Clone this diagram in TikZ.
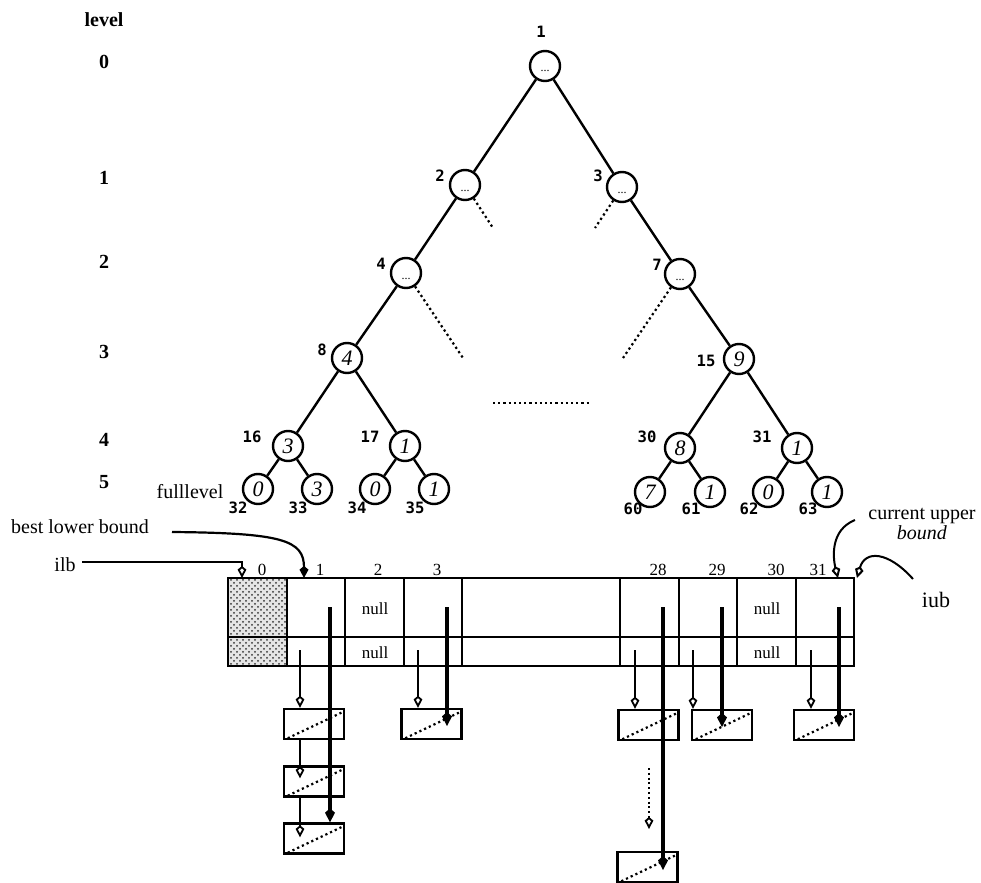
\documentclass[tikz,border=0pt]{standalone}
\usepackage{fontspec}
\setmainfont{Liberation Serif}
\newfontfamily\idfont{DejaVu Sans Mono}
\usetikzlibrary{arrows.meta,patterns,calc}
\newcommand\dotsin{\smash{\raisebox{-3pt}{...}}}
\begin{document}
\begin{tikzpicture}[x=0.5pt,y=-0.5pt,
  tn/.style={circle,draw,line width=1.2pt,minimum size=15pt,inner sep=0pt,font=\fontsize{11}{11}\selectfont\itshape},
  en/.style={circle,draw,line width=1.2pt,minimum size=15pt,inner sep=0pt,font=\fontsize{6}{6}\selectfont},
  idl/.style={inner sep=0pt,font=\fontsize{7.8}{7.8}\selectfont\idfont\bfseries},
  lvl/.style={inner sep=0pt,font=\fontsize{10}{10}\selectfont\bfseries},
  txt/.style={inner sep=0pt,font=\fontsize{10}{12}\selectfont},
  idx/.style={inner sep=0pt,anchor=base,font=\fontsize{8.5}{8.5}\selectfont},
  nul/.style={inner sep=0pt,font=\fontsize{8.5}{8.5}\selectfont},
  edg/.style={line width=1.2pt},
  dotl/.style={line width=1.1pt,dash pattern=on 1.1pt off 1.5pt},
  lbox/.style={draw,line width=1.2pt,minimum width=30pt,minimum height=15pt,inner sep=0pt},
  openhead/.style={-{Kite[open,length=6pt,width=4.4pt,inset=1.8pt]}},
  thinarr/.style={line width=0.9pt,openhead},
  thickarr/.style={line width=2.1pt,-{Kite[length=7pt,width=5pt,inset=2.2pt]}},
  ptr/.style={line width=1.1pt,-{Kite[length=6pt,width=4.5pt,inset=1.8pt]}},
]
\useasboundingbox (0,0) rectangle (981,883);

% level labels
\node[lvl] (lv) at (104,20) {level};
\node[lvl] (l0) at (104,62) {0};
\node[lvl] (l1) at (104,178) {1};
\node[lvl] (l2) at (104,262) {2};
\node[lvl] (l3) at (104,352) {3};
\node[lvl] (l4) at (104,440) {4};
\node[lvl] (l5) at (104,482) {5};
\node[txt] (fl) at (190,492) {fulllevel};

% tree nodes
\node[en] (n1) at (545,66) {\dotsin};
\node[en] (n2) at (465,185) {\dotsin};
\node[en] (n3) at (622,187) {\dotsin};
\node[en] (n4) at (406,273) {\dotsin};
\node[en] (n7) at (680,274) {\dotsin};
\node[tn] (n8) at (347,358) {4};
\node[tn] (n15) at (739,359) {9};
\node[tn] (n16) at (288,446) {3};
\node[tn] (n17) at (405,446) {1};
\node[tn] (n30) at (680,448) {8};
\node[tn] (n31) at (797,448) {1};
\node[tn] (n32) at (258,489) {0};
\node[tn] (n33) at (317,489) {3};
\node[tn] (n34) at (375,489) {0};
\node[tn] (n35) at (434,489) {1};
\node[tn] (n60) at (650,492) {7};
\node[tn] (n61) at (710,492) {1};
\node[tn] (n62) at (768,492) {0};
\node[tn] (n63) at (827,492) {1};

% node ids
\node[idl] (id1) at (541,32) {1};
\node[idl] (id2) at (440,176) {2};
\node[idl] (id3) at (598,176) {3};
\node[idl] (id4) at (381,264) {4};
\node[idl] (id7) at (657,265) {7};
\node[idl] (id8) at (322,350) {8};
\node[idl] (id15) at (706,361) {15};
\node[idl] (id16) at (252,437) {16};
\node[idl] (id17) at (370,437) {17};
\node[idl] (id30) at (647,437) {30};
\node[idl] (id31) at (762,437) {31};
\node[idl] (id32) at (238,508) {32};
\node[idl] (id33) at (298,508) {33};
\node[idl] (id34) at (357,508) {34};
\node[idl] (id35) at (415,508) {35};
\node[idl] (id60) at (633,509) {60};
\node[idl] (id61) at (691,509) {61};
\node[idl] (id62) at (749,509) {62};
\node[idl] (id63) at (808,509) {63};

% tree edges
\foreach \a/\b in {n1/n2,n1/n3,n2/n4,n3/n7,n4/n8,n7/n15,n8/n16,n8/n17,n15/n30,n15/n31,
  n16/n32,n16/n33,n17/n34,n17/n35,n30/n60,n30/n61,n31/n62,n31/n63}
  \draw[edg] (\a) -- (\b);

% dotted partial edges
\coordinate (d2) at (493,228);
\coordinate (d3) at (595,228);
\coordinate (d4) at (463,358);
\coordinate (d7) at (623,358);
\coordinate (h1) at (493,403);
\coordinate (h2) at (589,403);
\draw[dotl] (n2.-57) -- (d2);
\draw[dotl] (n3.-123) -- (d3);
\draw[dotl] (n4.-56) -- (d4);
\draw[dotl] (n7.-124) -- (d7);
\draw[dotl] (h1) -- (h2);

% array
\fill[gray!20] (228,578) rectangle (287,666);
\fill[pattern=crosshatch dots,pattern color=black!80] (228,578) rectangle (287,666);
\draw[line width=1.1pt] (228,578) rectangle (854,666);
\draw[line width=1.3pt] (228,578) -- (854,578);
\draw[line width=1pt] (228,637) -- (854,637);
\foreach \x in {287,345,404,462,620,679,737,796}
  \draw[line width=1pt] (\x,578) -- (\x,666);

% index labels
\node[idx] (i0) at (262,575) {0};
\node[idx] (i1) at (320,575) {1};
\node[idx] (i2) at (378,575) {2};
\node[idx] (i3) at (437,575) {3};
\node[idx] (i28) at (658,575) {28};
\node[idx] (i29) at (717,575) {29};
\node[idx] (i30) at (776,575) {30};
\node[idx] (i31) at (818,575) {31};

\node[nul] (nu2) at (375,609) {null};
\node[nul] (nl2) at (375,653) {null};
\node[nul] (nu30) at (767,609) {null};
\node[nul] (nl30) at (767,653) {null};

% list boxes
\node[lbox] (b1a) at (314,724) {};
\node[lbox] (b1b) at (314,781.5) {};
\node[lbox] (b1c) at (314,838.5) {};
\node[lbox] (b3) at (431.5,724) {};
\node[lbox] (b28a) at (648.5,725) {};
\node[lbox] (b28b) at (647.5,867) {};
\node[lbox] (b29) at (722,725) {};
\node[lbox] (b31) at (824,725) {};
\foreach \b in {b1a,b1b,b1c,b3,b28a,b28b,b29,b31}
  \draw[dotl] ([shift={(5,-2)}]\b.south west) -- ([shift={(-2,4)}]\b.north east);

% pointer starts
\coordinate (t1) at (300,650);  \coordinate (T1) at (330,607);
\coordinate (t3) at (418,650);  \coordinate (T3) at (447,607);
\coordinate (t28) at (635,650); \coordinate (T28) at (663,607);
\coordinate (t29) at (693,650); \coordinate (T29) at (722,607);
\coordinate (t31) at (811,650); \coordinate (T31) at (839,607);

\draw[thinarr] (t1) -- (t1 |- b1a.north);
\draw[thinarr] (t1 |- b1a.south) -- ($(t1 |- b1b.north)+(0,13)$);
\draw[thinarr] (t1 |- b1b.south) -- ($(t1 |- b1c.north)+(0,15)$);
\draw[thinarr] (t3) -- (t3 |- b3.north);
\draw[thinarr] (t28) -- (t28 |- b28a.north);
\draw[thinarr] (t29) -- (t29 |- b29.north);
\draw[thinarr] (t31) -- (t31 |- b31.north);

\draw[thickarr] (T1) -- (T1 |- b1c.north);
\draw[thickarr] (T3) -- ($(T3 |- b3.center)+(0,2)$);
\draw[thickarr] (T28) -- ($(T28 |- b28b.center)+(0,3)$);
\draw[thickarr] (T29) -- ($(T29 |- b29.center)+(0,2)$);
\draw[thickarr] (T31) -- ($(T31 |- b31.center)+(0,2)$);

\coordinate (q1) at (649,768);
\coordinate (q2) at (649,829);
\draw[line width=0.9pt,dash pattern=on 1pt off 1.4pt,openhead] (q1) -- (q2);

% side labels and their pointers
\node[txt] (ilb) at (65,565) {ilb};
\node[txt] (blb) at (80,527) {best lower bound};
\node[txt,align=center] (cub) at (922,524) {current upper\\[-2pt]\textit{bound}};
\node[txt,font=\fontsize{11}{11}\selectfont] (iub) at (936,600) {iub};

\coordinate (ilbs) at (82,562);
\coordinate (ilbt) at (242,578);
\draw[thinarr] (ilbs) -| (ilbt);

\coordinate (blbs) at (172,532);
\coordinate (blbt) at (304,578);
\draw[ptr] (blbs) .. controls +(110,1) and +(0,-38) .. (blbt);

\coordinate (cubs) at (855,520);
\coordinate (cubt) at (838,578);
\draw[line width=1pt,openhead] (cubs) .. controls +(-25,10) and +(-5,-20) .. (cubt);

\coordinate (iubs) at (913,579);
\coordinate (iubt) at (857,578);
\draw[line width=1pt,openhead] (iubs) .. controls +(-25,-28) and +(8,-28) .. (iubt);
\end{tikzpicture}
\end{document}
